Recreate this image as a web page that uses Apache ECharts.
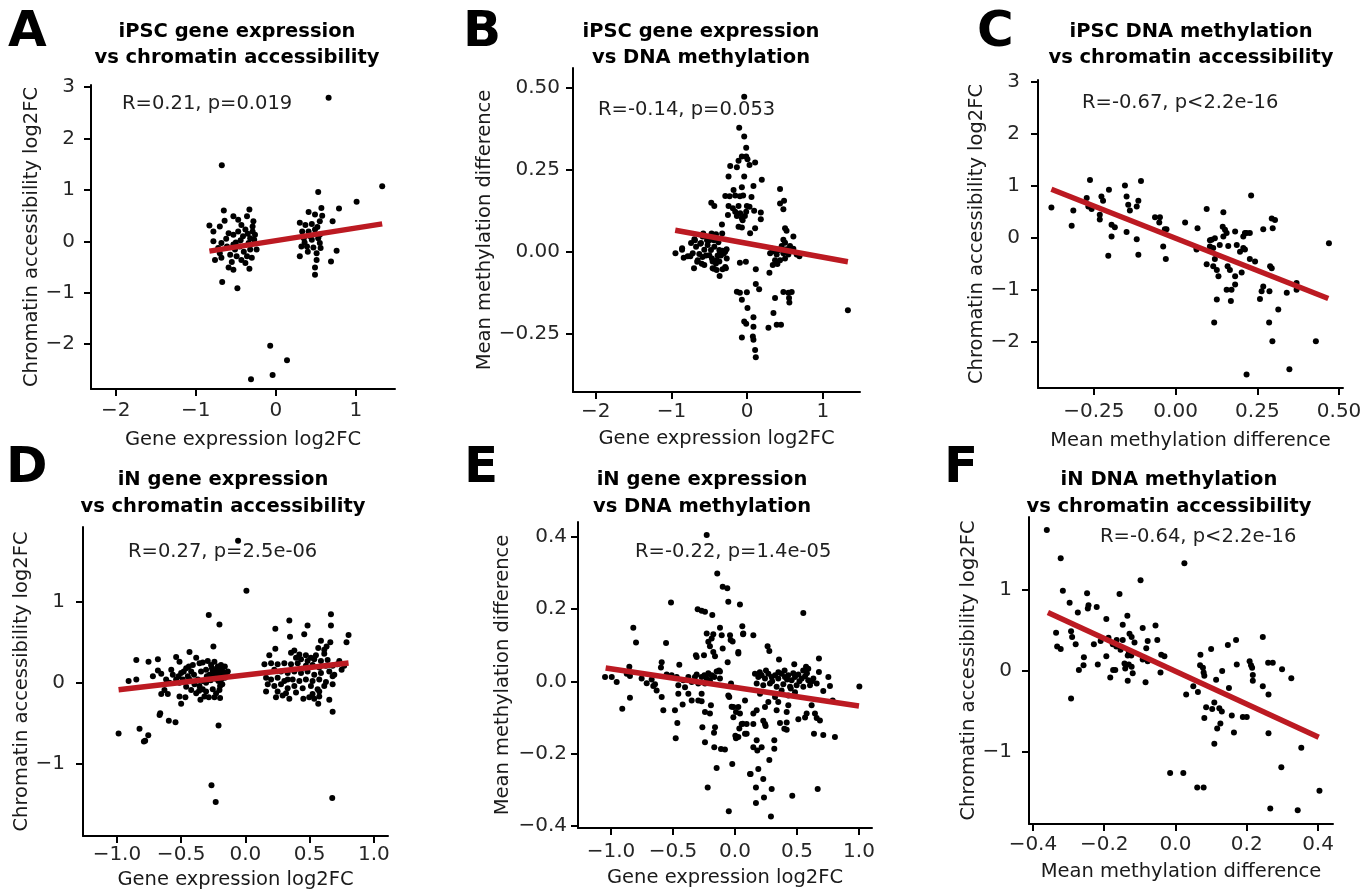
<!DOCTYPE html>
<html><head><meta charset="utf-8">
<script src="https://cdn.jsdelivr.net/npm/echarts@6/dist/echarts.min.js"></script>
<style>html,body{margin:0;padding:0;background:#fff}#c{width:1366px;height:892px}</style>
</head><body><div id="c"></div>
<script>
// ---------- DATA ----------
const ptsA = [
[0.66,2.79],[-0.675,1.48],[1.33,1.07],[0.53,0.96],[1.01,0.77],[0.79,0.64],[-0.65,0.60],[-0.33,0.62],[0.57,0.65],[0.41,0.57],[0.49,0.52],
[-0.83,0.31],[-0.78,0.19],[-0.53,0.49],[-0.47,0.42],[-0.36,0.49],[-0.28,0.39],[-0.26,0.13],[-0.43,0.32],[-0.70,0.29],[-0.59,0.16],[-0.53,0.13],[-0.47,0.19],[-0.38,0.23],[-0.32,0.06],[-0.78,0.0],[-0.72,-0.13],[-0.68,-0.03],[-0.61,-0.10],[-0.53,-0.06],[-0.45,-0.10],[-0.34,-0.03],[-0.24,-0.16],[-0.76,-0.36],[-0.68,-0.32],[-0.57,-0.26],[-0.49,-0.29],[-0.43,-0.36],[-0.36,-0.29],[-0.30,-0.32],[-0.59,-0.51],[-0.53,-0.55],[-0.38,-0.42],[-0.33,-0.53],[-0.67,-0.79],[-0.48,-0.91],[-0.70,-0.23],[-0.51,-0.16],[-0.32,-0.16],[-0.27,0.03],[-0.29,0.19],[-0.29,0.29],
[-0.62,0.05],[-0.44,0.02],[-0.40,-0.20],[-0.55,-0.40],[-0.64,0.40],[-0.41,0.10],[-0.50,-0.02],[-0.35,0.15],
[-0.07,-2.03],[0.14,-2.31],[-0.04,-2.60],[-0.31,-2.68],
[0.30,0.36],[0.37,0.32],[0.45,0.34],[0.55,0.39],[0.71,0.39],[0.33,0.19],[0.41,0.19],[0.49,0.23],[0.55,0.13],[0.35,0.06],[0.45,0.03],[0.53,0.06],[0.32,-0.10],[0.39,-0.10],[0.47,-0.12],[0.56,-0.13],[0.30,-0.29],[0.51,-0.36],[0.49,-0.51],[0.49,-0.65],[0.69,-0.39],[0.76,-0.18],[0.51,-0.23],[0.55,-0.03],
[0.36,-0.02],[0.43,0.10],[0.52,0.28],[0.40,-0.20],[0.58,0.50]
];
const fitA = [[-0.83,-0.19],[1.33,0.34]];

const ptsB = [
[-0.039,0.473],[-0.105,0.379],[-0.039,0.352],[-0.013,0.318],[-0.070,0.291],[-0.013,0.291],[-0.114,0.278],[0.004,0.283],[0.105,0.273],[-0.224,0.262],[-0.136,0.258],[0.031,0.265],[-0.246,0.230],[-0.039,0.230],[0.193,0.220],[0.083,0.201],[-0.070,0.197],[0.434,0.192],[-0.18,0.189],[-0.289,0.171],[-0.232,0.170],[-0.158,0.172],[-0.096,0.170],[-0.053,0.172],[0.057,0.168],
[-0.474,0.150],[-0.434,0.140],[-0.246,0.140],[-0.189,0.133],[-0.114,0.140],[-0.004,0.140],[0.031,0.138],[0.434,0.148],[0.487,0.156],[0.478,0.130],[-0.158,0.123],[-0.092,0.118],[-0.013,0.123],[-0.254,0.113],[-0.136,0.110],[-0.070,0.103],[0.092,0.126],[0.180,0.120],[0.180,0.100],[-0.06,0.097],[-0.03,0.110],
[-0.333,0.084],[-0.114,0.077],[-0.070,0.075],[0.105,0.072],[0.039,0.057],[0.5,0.072],[0.52,0.065],[0.61,0.047],[0.478,0.037],
[-0.947,-0.004],[-0.859,0.011],[-0.838,-0.018],[-0.785,-0.013],[-0.719,-0.004],[-0.741,0.027],[-0.697,0.039],[-0.675,0.016],[-0.653,-0.025],[-0.610,0.027],[-0.588,0.047],[-0.566,0.007],[-0.544,-0.011],[-0.522,0.021],[-0.500,0.036],[-0.478,0.006],[-0.465,-0.020],[-0.434,0.016],[-0.412,0.054],[-0.390,-0.011],[-0.368,0.006],[-0.346,-0.011],[-0.325,0.004],[-0.290,0.001],[-0.272,0.008],[-0.632,-0.006],[-0.456,-0.029],[-0.368,-0.029],[-0.412,-0.035],[-0.702,-0.050],[-0.566,-0.040],[-0.456,-0.050],[-0.403,-0.055],[-0.325,-0.053],[-0.281,-0.050],[-0.364,-0.073],
[-0.58,0.056],[-0.47,0.056],[-0.62,0.025],[-0.53,0.036],[-0.44,0.036],[-0.38,0.030],[-0.33,0.056],[-0.36,0.000],[-0.31,-0.005],[-0.50,-0.010],[-0.59,-0.015],[-0.66,-0.030],[-0.60,-0.036],[-0.44,-0.051],[-0.29,-0.046],[-0.27,-0.020],[-0.75,-0.013],[-0.86,0.007],[-0.69,0.036],[-0.40,-0.025],
[-0.096,-0.033],[-0.017,-0.030],[0.114,-0.053],[0.114,-0.098],[0.158,-0.114],[-0.136,-0.121],[-0.096,-0.124],[-0.004,-0.123],[-0.070,-0.146],[0.004,-0.171],[-0.039,-0.212],[-0.013,-0.219],[0.083,-0.199],[0.083,-0.228],[-0.070,-0.261],[0.075,-0.258],[0.083,-0.268],[0.105,-0.299],[0.114,-0.321],
[0.303,-0.004],[0.347,0.002],[0.39,-0.008],[0.434,0.008],[0.478,-0.004],[0.522,0.008],[0.544,-0.008],[0.566,0.018],[0.368,-0.025],[0.434,-0.025],[0.500,-0.020],[0.338,-0.040],[0.399,-0.037],[0.294,-0.063],[0.456,0.018],[0.500,0.028],[0.654,-0.008],[0.69,-0.013],[0.61,0.010],[0.33,0.010],[0.41,0.005],
[0.368,-0.140],[0.478,-0.122],[0.544,-0.124],[0.588,-0.122],[0.553,-0.140],[0.557,-0.154],[0.347,-0.186],[0.281,-0.231],[0.39,-0.222],[0.447,-0.222],[1.33,-0.178]
];
const fitB = [[-0.95,0.066],[1.33,-0.030]];

const ptsC = [
[-0.380,0.59],[-0.318,0.24],[-0.313,0.53],[-0.272,0.77],[-0.262,1.12],[-0.267,0.61],[-0.257,0.56],[-0.232,0.45],[-0.227,0.80],[-0.222,0.72],[-0.232,0.36],[-0.204,0.93],[-0.196,0.26],[-0.186,0.21],[-0.206,-0.34],[-0.196,0.03],[-0.155,1.01],[-0.150,0.80],[-0.145,0.64],[-0.140,0.53],[-0.119,0.61],[-0.114,0.72],[-0.106,1.10],[-0.150,0.12],[-0.119,-0.02],[-0.114,-0.32],[-0.063,0.40],[-0.048,0.40],[-0.050,0.30],[-0.033,0.17],[-0.028,0.17],[-0.038,-0.16],[-0.030,-0.40],[0.029,0.30],[0.067,0.19],[0.064,-0.19],[0.095,0.56],[0.110,-0.03],[0.120,0.00],[0.105,-0.16],[0.115,-0.19],[0.095,-0.50],[0.115,-0.54],[0.126,-0.61],[0.120,-0.40],[0.131,-0.73],[0.118,-1.62],[0.126,-1.18],[0.135,-0.13],[0.146,0.50],[0.144,0.22],[0.151,0.16],[0.146,0.03],[0.156,0.10],[0.161,-0.15],[0.159,-0.54],[0.166,-0.61],[0.156,-0.99],[0.171,-0.99],[0.169,-1.21],[0.182,0.13],[0.182,-0.73],[0.182,-0.89],[0.187,-0.13],[0.202,-0.66],[0.207,0.03],[0.212,0.10],[0.217,0.10],[0.227,0.10],[0.197,-0.26],[0.212,-0.22],[0.227,-0.40],[0.243,-0.45],[0.231,0.82],[0.207,-0.19],[0.217,-2.62],[0.258,-1.17],[0.268,-0.93],[0.263,-1.02],[0.268,0.17],[0.289,-0.54],[0.294,-0.58],[0.287,-1.02],[0.286,-1.62],[0.296,-1.98],[0.294,0.38],[0.304,0.35],[0.297,0.19],[0.314,-1.37],[0.340,-1.05],[0.348,-2.52],[0.370,-0.86],[0.370,-0.99],[0.429,-1.98],[0.469,-0.10],[0.105,-0.04],[0.064,-0.22]
];
const fitC = [[-0.38,0.94],[0.467,-1.16]];

const ptsD = [
[-0.057,1.76],[0.008,1.14],[-0.285,0.84],[-0.202,0.72],[-0.249,0.45],[-0.435,0.38],[-0.849,0.28],[-0.754,0.26],[-0.681,0.29],[-0.539,0.32],[-0.513,0.26],[-0.909,0.02],[-0.849,0.04],[-0.720,0.08],[-0.681,0.15],[-0.655,0.11],[-0.617,0.04],[-0.577,0.16],[-0.565,0.10],[-0.539,0.04],[-0.500,0.12],[-0.487,0.04],[-0.461,0.18],[-0.448,0.08],[-0.422,0.14],[-0.409,0.22],[-0.383,0.31],[-0.357,0.24],[-0.345,0.14],[-0.370,0.04],[-0.396,-0.02],[-0.435,0.04],[-0.461,-0.05],[-0.513,0.00],[-0.591,0.00],[-0.630,-0.09],[-0.604,-0.14],[-0.655,-0.14],[-0.513,-0.17],[-0.500,-0.26],[-0.467,-0.18],[-0.332,0.25],[-0.306,0.16],[-0.293,0.27],[-0.267,0.22],[-0.241,0.26],[-0.215,0.20],[-0.228,0.14],[-0.202,0.16],[-0.254,0.15],[-0.176,0.14],[-0.137,0.14],[-0.280,0.10],[-0.254,0.06],[-0.215,0.07],[-0.189,0.04],[-0.306,0.00],[-0.332,0.02],[-0.357,-0.04],[-0.332,-0.08],[-0.306,-0.11],[-0.254,-0.08],[-0.228,-0.13],[-0.202,-0.09],[-0.197,-0.04],[-0.241,-0.18],[-0.285,-0.18],[-0.319,-0.17],[-0.350,-0.21],[-0.197,-0.19],[-0.383,-0.13],[-0.422,-0.09],[-0.663,-0.38],[-0.668,-0.40],[-0.596,-0.47],[-0.544,-0.49],[-0.209,-0.53],[-0.824,-0.57],[-0.987,-0.63],[-0.756,-0.65],[-0.78,-0.72],[-0.79,-0.73],[-0.264,-1.27],[-0.231,-1.48],
[-0.22,0.18],[-0.19,0.22],[-0.17,0.10],[-0.16,0.06],[-0.21,0.02],[-0.18,-0.02],[-0.24,0.12],[-0.26,0.18],[-0.15,0.12],[-0.20,0.10],[-0.23,0.05],[-0.19,0.16],[-0.16,0.20],[-0.27,0.03],[-0.30,0.08],[-0.44,0.20],[-0.52,0.08],[-0.40,0.10],[-0.48,0.14],[-0.36,-0.10],
[0.666,0.85],[0.666,0.71],[0.342,0.77],[0.233,0.67],[0.484,0.71],[0.458,0.60],[0.347,0.57],[0.803,0.59],[0.787,0.50],[0.588,0.52],[0.661,0.50],[0.233,0.42],[0.632,0.45],[0.614,0.41],[0.567,0.43],[0.381,0.40],[0.355,0.37],[0.186,0.34],[0.420,0.35],[0.471,0.34],[0.510,0.31],[0.549,0.34],[0.614,0.36],[0.640,0.28],[0.588,0.27],[0.536,0.29],[0.484,0.27],[0.433,0.29],[0.394,0.31],[0.731,0.27],[0.769,0.21],[0.717,0.23],[0.679,0.21],[0.627,0.21],[0.575,0.19],[0.523,0.22],[0.471,0.21],[0.407,0.24],[0.355,0.23],[0.303,0.24],[0.251,0.23],[0.200,0.24],[0.148,0.23],[0.225,0.16],[0.277,0.14],[0.329,0.12],[0.381,0.14],[0.433,0.12],[0.484,0.14],[0.536,0.10],[0.588,0.12],[0.653,0.14],[0.692,0.10],[0.749,0.16],[0.679,0.08],[0.161,0.06],[0.200,0.04],[0.251,0.06],[0.303,0.02],[0.368,0.04],[0.420,0.02],[0.471,0.04],[0.523,0.02],[0.575,0.04],[0.627,0.01],[0.679,-0.02],[0.174,-0.02],[0.225,-0.04],[0.277,-0.02],[0.329,-0.07],[0.381,-0.04],[0.446,-0.07],[0.510,-0.04],[0.562,-0.08],[0.614,-0.04],[0.161,-0.11],[0.251,-0.11],[0.316,-0.13],[0.394,-0.12],[0.523,-0.14],[0.575,-0.11],[0.238,-0.18],[0.290,-0.16],[0.342,-0.20],[0.451,-0.20],[0.497,-0.18],[0.536,-0.20],[0.575,-0.17],[0.567,-0.26],[0.653,-0.21],[0.679,-0.36],[0.329,0.04],[0.676,-1.43]
];
const fitD = [[-0.987,-0.087],[0.803,0.244]];

const ptsE = [
[-0.228,0.404],[-0.143,0.298],[-0.099,0.261],[-0.062,0.257],[-0.054,0.220],[-0.516,0.218],[-0.301,0.199],[-0.269,0.195],[-0.242,0.192],[-0.183,0.183],[-0.820,0.148],[-0.798,0.107],[-0.556,0.106],[-0.121,0.148],[-0.228,0.132],[-0.175,0.130],[-0.188,0.118],[-0.107,0.127],[-0.040,0.127],[-0.215,0.109],[-0.202,0.097],[-0.099,0.091],[-0.175,0.081],[-0.161,0.069],[-0.315,0.072],[-0.309,0.067],[-0.250,0.072],[-0.059,0.053],[-0.591,0.053],[-0.449,0.046],[-0.129,0.030],[-0.852,0.040],[-0.597,0.038],
[-1.048,0.012],[-0.994,0.012],[-0.954,-0.002],[-0.873,0.021],[-0.847,0.015],[-0.753,0.008],[-0.712,-0.005],[-0.672,0.005],[-0.659,-0.013],[-0.632,-0.025],[-0.591,-0.043],[-0.578,-0.080],[-0.645,-0.008],[-0.551,0.019],[-0.511,0.017],[-0.470,0.012],[-0.457,-0.011],[-0.457,-0.034],[-0.417,0.003],[-0.403,-0.016],[-0.376,0.012],[-0.376,-0.034],[-0.349,-0.002],[-0.349,-0.053],[-0.323,0.012],[-0.309,0.019],[-0.296,-0.006],[-0.269,0.012],[-0.269,-0.034],[-0.247,0.017],[-0.242,-0.006],[-0.228,0.008],[-0.215,0.022],[-0.202,0.003],[-0.188,0.017],[-0.167,0.012],[-0.148,0.027],[-0.121,0.027],[-0.121,0.008],[-0.296,-0.053],[-0.269,-0.055],[-0.422,-0.064],[-0.484,-0.080],[-0.847,-0.045],[-0.909,-0.076],[-0.194,-0.066],[-0.242,-0.085],[-0.202,-0.089],[-0.465,-0.115],[-0.478,-0.157],[-0.263,-0.127],[-0.161,-0.127],[-0.169,-0.142],[-0.242,-0.168],[-0.167,-0.182],[-0.113,-0.187],[-0.081,-0.188],[-0.148,-0.239],[-0.022,-0.228],[-0.220,-0.293],[-0.050,-0.359],[-0.054,-0.039],[-0.032,-0.006],[-0.027,-0.070],
[0.003,-0.150],[0.008,-0.157],[-0.013,-0.099],[0.008,-0.085],[-0.046,-0.043],[0.062,-0.117],[0.081,-0.145],[0.035,-0.13],[-0.013,-0.071],[0.121,-0.256],[0.148,-0.182],[-0.035,0.114],[-0.019,0.11],[0.027,0.081],[0.065,0.13],
[0.040,0.212],[0.551,0.189],[0.059,0.152],[0.067,0.132],[0.148,0.127],[0.263,0.097],[0.277,0.084],[0.027,0.077],[0.355,0.060],[0.478,0.047],[0.677,0.063],[0.573,0.040],[0.591,0.035],[0.677,0.026],[0.753,0.012],[0.766,-0.013],[1.003,-0.014],[0.788,-0.053],
[0.161,0.021],[0.188,0.012],[0.215,0.017],[0.242,0.008],[0.269,0.021],[0.296,0.012],[0.323,0.017],[0.349,0.008],[0.376,0.021],[0.403,0.012],[0.430,0.017],[0.457,0.003],[0.484,0.012],[0.511,0.019],[0.538,0.008],[0.565,0.014],[0.591,0.003],[0.632,0.008],[0.659,-0.006],[0.712,-0.027],[0.175,-0.006],[0.228,-0.011],[0.282,-0.006],[0.336,-0.015],[0.390,-0.008],[0.444,-0.015],[0.497,-0.011],[0.551,-0.015],[0.605,-0.011],[0.376,-0.025],[0.202,-0.034],[0.323,-0.043],[0.430,-0.039],[0.484,-0.030],
[0.20,0.025],[0.25,0.030],[0.30,0.000],[0.35,0.025],[0.42,0.005],[0.47,0.022],[0.52,0.000],[0.58,0.022],[0.62,0.000],[0.40,0.030],[0.45,-0.020],[0.55,0.030],
[0.269,-0.057],[0.349,-0.057],[0.430,-0.066],[0.242,-0.071],[0.336,-0.080],[0.175,-0.080],[0.148,-0.089],[0.417,-0.085],[0.618,-0.066],[0.578,-0.089],[0.645,-0.089],[0.659,-0.101],[0.685,-0.108],[0.511,-0.105],[0.565,-0.100],[0.637,-0.145],[0.712,-0.148],[0.806,-0.154],[0.363,-0.115],[0.417,-0.114],[0.398,-0.131],[0.417,-0.134],[0.242,-0.118],[0.247,-0.123],[0.228,-0.109],[0.148,-0.118],[0.094,-0.118],[0.054,-0.118],[0.040,-0.089],[0.027,-0.071],[0.094,-0.145],[0.027,-0.154],[0.175,-0.163],[0.317,-0.163],[0.317,-0.186],[0.215,-0.182],[0.180,-0.191],[0.277,-0.217],[0.188,-0.242],[0.126,-0.256],[0.228,-0.270],[0.169,-0.293],[0.296,-0.297],[0.667,-0.297],[0.462,-0.316],[0.234,-0.321],[0.169,-0.336],[0.290,-0.373],[0.081,-0.053]
];
const fitE = [[-1.043,0.037],[1.0,-0.068]];

const ptsF = [
[-0.361,1.74],[-0.322,1.39],[0.025,1.33],[-0.098,1.12],[-0.316,0.99],[-0.248,0.96],[-0.157,0.95],[-0.297,0.84],[-0.244,0.81],[-0.246,0.77],[-0.221,0.79],[-0.274,0.72],[-0.135,0.68],[-0.194,0.64],[-0.148,0.57],[-0.092,0.53],[-0.056,0.56],[-0.335,0.47],[-0.293,0.49],[-0.290,0.42],[-0.280,0.33],[-0.332,0.30],[-0.322,0.27],[-0.229,0.33],[-0.210,0.37],[-0.188,0.41],[-0.176,0.33],[-0.165,0.38],[-0.148,0.38],[-0.129,0.46],[-0.123,0.42],[-0.115,0.35],[-0.166,0.30],[-0.154,0.26],[-0.131,0.24],[-0.134,0.19],[-0.124,0.19],[-0.082,0.28],[-0.078,0.37],[-0.051,0.38],[-0.040,0.20],[-0.031,0.18],[-0.092,0.14],[-0.078,0.12],[-0.257,0.17],[-0.258,0.07],[-0.271,0.01],[-0.194,0.18],[-0.218,0.08],[-0.143,0.09],[-0.131,0.08],[-0.123,0.05],[-0.175,0.01],[-0.169,0.01],[-0.183,-0.08],[-0.141,0.03],[-0.120,-0.03],[-0.134,-0.12],[-0.084,-0.14],[-0.042,-0.02],[-0.293,-0.34],
[0.030,-0.29],[0.050,-0.19],[0.063,-0.26],[0.070,0.20],[0.100,0.27],[0.069,0.07],[0.077,0.04],[0.079,-0.02],[0.081,-0.06],[0.114,-0.11],[0.131,0.00],[0.147,0.32],[0.170,0.38],[0.172,0.08],[0.150,-0.21],[0.208,0.12],[0.212,0.07],[0.215,0.04],[0.217,-0.05],[0.217,-0.12],[0.245,0.42],[0.245,-0.19],[0.260,0.10],[0.273,0.10],[0.299,0.02],[0.325,-0.09],[0.261,-0.29],[0.086,-0.45],[0.103,-0.47],[0.109,-0.39],[0.123,-0.46],[0.130,-0.50],[0.126,-0.65],[0.117,-0.71],[0.081,-0.58],[0.109,-0.90],[0.158,-0.55],[0.189,-0.57],[0.200,-0.57],[0.164,-0.76],[0.261,-0.77],[0.353,-0.95],[0.297,-1.19],[-0.015,-1.26],[0.022,-1.26],[0.061,-1.44],[0.079,-1.44],[0.404,-1.48],[0.266,-1.70],[0.343,-1.72]
];
const fitF = [[-0.358,0.72],[0.402,-0.82]];

// tick values
const ticksAx = [-2,-1,0,1],            ticksAy = [-2,-1,0,1,2,3];
const ticksBx = [-2,-1,0,1],            ticksBy = [-0.25,0,0.25,0.5];
const ticksCx = [-0.25,0,0.25,0.5],     ticksCy = [-2,-1,0,1,2,3];
const ticksDx = [-1,-0.5,0,0.5,1],      ticksDy = [-1,0,1];
const ticksEx = [-1,-0.5,0,0.5,1],      ticksEy = [-0.4,-0.2,0,0.2,0.4];
const ticksFx = [-0.4,-0.2,0,0.2,0.4],  ticksFy = [-1,0,1];

const titles = {
  A:['iPSC gene expression','vs chromatin accessibility'],
  B:['iPSC gene expression','vs DNA methylation'],
  C:['iPSC DNA methylation','vs chromatin accessibility'],
  D:['iN gene expression','vs chromatin accessibility'],
  E:['iN gene expression','vs DNA methylation'],
  F:['iN DNA methylation','vs chromatin accessibility']
};
const stats = {A:'R=0.21, p=0.019', B:'R=-0.14, p=0.053', C:'R=-0.67, p<2.2e-16',
               D:'R=0.27, p=2.5e-06', E:'R=-0.22, p=1.4e-05', F:'R=-0.64, p<2.2e-16'};
const GE = 'Gene expression log2FC', CA = 'Chromatin accessibility log2FC', MM = 'Mean methylation difference';

// ---------- LAYOUT ----------
const panels = [
 {k:'A', pts:ptsA, fit:fitA, xt:ticksAx, yt:ticksAy, xd:0, yd:0, xr:[-2.31,1.49], yr:[-2.87,3.04],
  g:{left:91,top:85,width:304,height:304}, tx:237, ty:[32,58], lx:8, ly:33, sx:122, sy:104, xn:GE, yn:CA, xg:41, yg:43, xm:12, ym:16},
 {k:'B', pts:ptsB, fit:fitB, xt:ticksBx, yt:ticksBy, xd:0, yd:2, xr:[-2.30,1.49], yr:[-0.427,0.561],
  g:{left:573,top:68,width:287,height:324}, tx:701, ty:[32,58], lx:463, ly:33, sx:598, sy:110, xn:GE, yn:MM, xg:37, yg:70, xm:10, ym:13},
 {k:'C', pts:ptsC, fit:fitC, xt:ticksCx, yt:ticksCy, xd:2, yd:0, xr:[-0.421,0.512], yr:[-2.88,3.04],
  g:{left:1038,top:80,width:305,height:308}, tx:1191, ty:[32,58], lx:977, ly:33, sx:1082, sy:103, xn:MM, yn:CA, xg:43, yg:51, xm:14, ym:18},
 {k:'D', pts:ptsD, fit:fitD, xt:ticksDx, yt:ticksDy, xd:1, yd:0, xr:[-1.264,1.11], yr:[-1.90,1.93],
  g:{left:83,top:527,width:305,height:309}, tx:223, ty:[480,507], lx:6, ly:469, sx:128, sy:552, xn:GE, yn:CA, xg:34, yg:43, xm:9, ym:18},
 {k:'E', pts:ptsE, fit:fitE, xt:ticksEx, yt:ticksEy, xd:1, yd:1, xr:[-1.266,1.105], yr:[-0.405,0.44],
  g:{left:578,top:522,width:294,height:306}, tx:702, ty:[480,507], lx:464, ly:469, sx:635, sy:552, xn:GE, yn:MM, xg:40, yg:65, xm:14, ym:11},
 {k:'F', pts:ptsF, fit:fitF, xt:ticksFx, yt:ticksFy, xd:1, yd:0, xr:[-0.411,0.442], yr:[-1.89,1.90],
  g:{left:1029,top:517,width:304,height:307}, tx:1169, ty:[480,507], lx:944, ly:469, sx:1100, sy:537, xn:MM, yn:CA, xg:38, yg:44, xm:11, ym:17}
];

const FONT = '"DejaVu Sans", "Liberation Sans", Arial, sans-serif';
const fmt = (v,d) => Number(v).toFixed(d).replace('-', '\u2212');
const axisCommon = (ticks, d, margin, name, gap, range, gi) => ({
  type:'value', gridIndex:gi, min:range[0], max:range[1],
  axisLine:{show:true, onZero:false, lineStyle:{color:'#000', width:2}},
  axisTick:{show:true, inside:false, length:7, lineStyle:{color:'#000', width:2}, customValues:ticks},
  axisLabel:{show:true, customValues:ticks, formatter:v=>fmt(v,d), margin:margin, color:'#262626', fontSize:20, fontFamily:FONT},
  splitLine:{show:false},
  name:name, nameLocation:'middle', nameGap:gap,
  nameTextStyle:{color:'#1a1a1a', fontSize:19.5, fontFamily:FONT}
});

const option = {
  animation:false,
  backgroundColor:'#fff',
  grid: panels.map(p => Object.assign({containLabel:false}, p.g)),
  xAxis: panels.map((p,i) => axisCommon(p.xt, p.xd, p.xm, p.xn, p.xg, p.xr, i)),
  yAxis: panels.map((p,i) => axisCommon(p.yt, p.yd, p.ym, p.yn, p.yg, p.yr, i)),
  series: [].concat(...panels.map((p,i) => [
    {type:'scatter', xAxisIndex:i, yAxisIndex:i, data:p.pts, symbol:'circle', symbolSize:6,
     itemStyle:{color:'#000', opacity:1}, silent:true, z:2},
    {type:'line', xAxisIndex:i, yAxisIndex:i, data:p.fit, symbol:'none', silent:true,
     lineStyle:{color:'#BC1A22', width:5.5, cap:'butt'}, z:3}
  ])),
  graphic: [].concat(...panels.map(p => [
    {type:'text', x:p.lx, y:p.ly, silent:true,
     style:{text:p.k, font:'bold 50px ' + FONT, fill:'#000', align:'left', verticalAlign:'middle'}},
    {type:'text', x:p.tx, y:p.ty[0], silent:true,
     style:{text:titles[p.k][0], font:'bold 19.5px ' + FONT, fill:'#000', align:'center', verticalAlign:'middle'}},
    {type:'text', x:p.tx, y:p.ty[1], silent:true,
     style:{text:titles[p.k][1], font:'bold 19.5px ' + FONT, fill:'#000', align:'center', verticalAlign:'middle'}},
    {type:'text', x:p.sx, y:p.sy, silent:true, z:1,
     style:{text:stats[p.k], font:'19.5px ' + FONT, fill:'#1f1f1f', align:'left', verticalAlign:'middle'}}
  ]))
};

const chart = echarts.init(document.getElementById('c'), null, {renderer:'canvas'});
chart.setOption(option);
</script>
</body></html>
